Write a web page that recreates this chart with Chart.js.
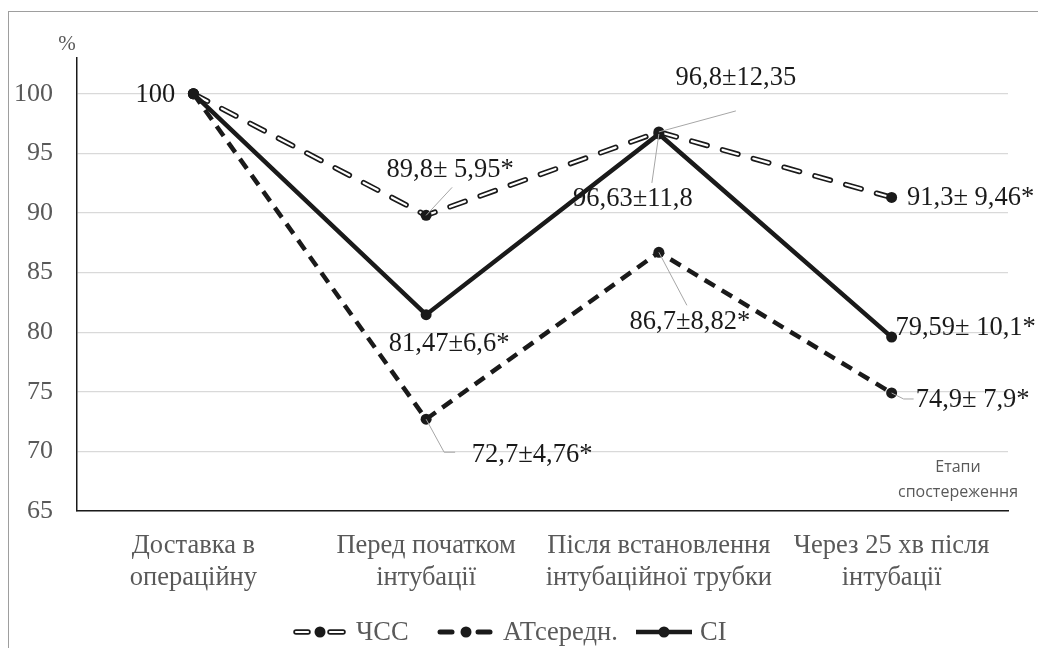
<!DOCTYPE html>
<html lang="uk">
<head>
  <meta charset="UTF-8">
  <title>ЧСС, АТсередн., СІ</title>
  <style>
    *{margin:0;padding:0;box-sizing:border-box;}
    body{background:#fff;width:1038px;height:648px;overflow:hidden;position:relative;}
    #frame{position:absolute;left:8px;top:11px;width:1040px;height:660px;border:1px solid #9e9e9e;}
    #wrap{position:absolute;left:0;top:0;width:1038px;height:648px;}
  </style>
  <script src="https://cdn.jsdelivr.net/npm/chart.js@4.4.0/dist/chart.umd.min.js"></script>
</head>
<body>
  <div id="frame"></div>
  <div id="wrap"><canvas id="chart"></canvas></div>
  <script>
    // --- data ---
    const stages = [
      ["Доставка в", "операційну"],
      ["Перед початком", "інтубації"],
      ["Після встановлення", "інтубаційної трубки"],
      ["Через 25 хв після", "інтубації"]
    ];
    const chss  = [100, 89.8, 96.8, 91.3];
    const atSer = [100, 72.7, 86.7, 74.9];
    const ci    = [100, 81.47, 96.63, 79.59];
    const chssLabels = ["", "89,8± 5,95*", "96,8±12,35", "91,3± 9,46*"];
    const atLabels   = ["", "72,7±4,76*", "86,7±8,82*", "74,9± 7,9*"];
    const ciLabels   = ["100", "81,47±6,6*", "96,63±11,8", "79,59± 10,1*"];
    const yTicks = [65, 70, 75, 80, 85, 90, 95, 100];

    const SERIF = "'Liberation Serif', 'DejaVu Serif', serif";
    const GRAY = "#595959";

    // label placement relative to its point: [dx, dy, leader points...]
    const place = {
      chss: [null, {dx:24, dy:-45, lead:[[26,-28]]}, {dx:77, dy:-54, lead:[[77,-21]]}, {dx:79, dy:1}],
      at:   [null, {dx:106, dy:36, lead:[[18,33],[29,33]]}, {dx:31, dy:70, lead:[[28,53]]}, {dx:81, dy:7, lead:[[12,6],[22,6]]}],
      ci:   [{dx:-38, dy:1}, {dx:23, dy:29}, {dx:-26, dy:65, lead:[[-7,49]]}, {dx:74, dy:-9}]
    };

    const labelsPlugin = {
      id: "valueLabels",
      afterDatasetsDraw(chart) {
        const {ctx, scales:{x, y}} = chart;
        const sets = [["chss", chss, chssLabels], ["at", atSer, atLabels], ["ci", ci, ciLabels]];
        ctx.save();
        sets.forEach(([key, vals, txts]) => {
          vals.forEach((v, i) => {
            const p = place[key][i];
            if (!p || !txts[i]) return;
            const px = x.getPixelForValue(i), py = y.getPixelForValue(v);
            if (p.lead) {
              ctx.strokeStyle = "#a6a6a6";
              ctx.lineWidth = 1;
              ctx.beginPath();
              ctx.moveTo(px, py);
              p.lead.forEach(([lx, ly]) => ctx.lineTo(px + lx, py + ly));
              ctx.stroke();
            }
            ctx.fillStyle = "#1a1a1a";
            ctx.font = "26.5px " + SERIF;
            ctx.textAlign = "center";
            ctx.textBaseline = "middle";
            ctx.fillText(txts[i], px + p.dx, py + p.dy);
          });
        });
        ctx.restore();
      }
    };

    const extrasPlugin = {
      id: "extras",
      afterDraw(chart) {
        const {ctx, chartArea} = chart;
        ctx.save();
        // "%" unit
        ctx.fillStyle = GRAY;
        ctx.font = "21px " + SERIF;
        ctx.textAlign = "center";
        ctx.textBaseline = "middle";
        ctx.fillText("%", 67, 44);
        // x axis title
        ctx.font = "16px 'Open Sans', 'Liberation Sans', sans-serif";
        ctx.fillText("Етапи", chartArea.right - 50, 467);
        ctx.fillText("спостереження", chartArea.right - 50, 492);

        // legend
        const ly = 632;
        const seg = (x1, x2, w, col) => {
          ctx.strokeStyle = col; ctx.lineWidth = w; ctx.lineCap = "round";
          ctx.beginPath(); ctx.moveTo(x1, ly); ctx.lineTo(x2, ly); ctx.stroke();
        };
        const dot = cx => { ctx.fillStyle = "#1a1a1a"; ctx.beginPath(); ctx.arc(cx, ly, 5.5, 0, Math.PI*2); ctx.fill(); };
        // ЧСС
        seg(296, 308, 5.5, "#1a1a1a"); seg(296, 308, 2.2, "#fff");
        seg(330, 343, 5.5, "#1a1a1a"); seg(330, 343, 2.2, "#fff");
        dot(320);
        // АТсередн.
        seg(440, 452, 5, "#1a1a1a"); seg(478, 490, 5, "#1a1a1a");
        dot(466);
        // СІ
        ctx.lineCap = "butt";
        ctx.strokeStyle = "#1a1a1a"; ctx.lineWidth = 4.5;
        ctx.beginPath(); ctx.moveTo(636, ly); ctx.lineTo(692, ly); ctx.stroke();
        dot(664);
        ctx.fillStyle = GRAY;
        ctx.font = "26.5px " + SERIF;
        ctx.textAlign = "left";
        ctx.fillText("ЧСС", 356, ly + 1);
        ctx.fillText("АТсередн.", 503, ly + 1);
        ctx.fillText("СІ", 700, ly + 1);
        ctx.restore();
      }
    };

    new Chart(document.getElementById("chart"), {
      type: "line",
      data: {
        labels: stages,
        datasets: [
          { label: "СІ", data: ci, order: 1,
            borderColor: "#1a1a1a", borderWidth: 4.5,
            pointRadius: 5.5, pointBackgroundColor: "#1a1a1a", pointBorderWidth: 0,
            tension: 0 },
          { label: "ЧСС", data: chss, order: 2,
            borderColor: "#fff", borderWidth: 2.2, borderDash: [16, 16], borderCapStyle: "round",
            pointRadius: 5.5, pointBackgroundColor: "#1a1a1a", pointBorderWidth: 0,
            tension: 0 },
          { label: "ЧСС-outline", data: chss, order: 3,
            borderColor: "#1a1a1a", borderWidth: 5.5, borderDash: [16, 16], borderCapStyle: "round",
            pointRadius: 0, tension: 0 },
          { label: "АТсередн.", data: atSer, order: 4,
            borderColor: "#1a1a1a", borderWidth: 4.5, borderDash: [12, 8],
            pointRadius: 5.5, pointBackgroundColor: "#1a1a1a", pointBorderWidth: 0,
            tension: 0 }
        ]
      },
      options: {
        responsive: true,
        maintainAspectRatio: false,
        animation: false,
        layout: { padding: { top: 58, right: 30, bottom: 47, left: 0 } },
        plugins: { legend: { display: false }, tooltip: { enabled: false } },
        scales: {
          x: {
            offset: true,
            grid: { display: false },
            border: { color: "#1a1a1a", width: 1.5 },
            ticks: { color: GRAY, font: { family: SERIF, size: 26.5, lineHeight: 1.2 }, maxRotation: 0, padding: 11 },
            afterFit: s => { s.height = 90; }
          },
          y: {
            min: 65, max: 103,
            grid: { color: "#d9d9d9", lineWidth: 1.2, drawTicks: false },
            border: { color: "#1a1a1a", width: 1.5 },
            ticks: { color: GRAY, font: { family: SERIF, size: 26 }, padding: 24 },
            afterBuildTicks: s => { s.ticks = yTicks.map(v => ({ value: v })); },
            afterFit: s => { s.width = 77; }
          }
        }
      },
      plugins: [labelsPlugin, extrasPlugin]
    });
  </script>
</body>
</html>
